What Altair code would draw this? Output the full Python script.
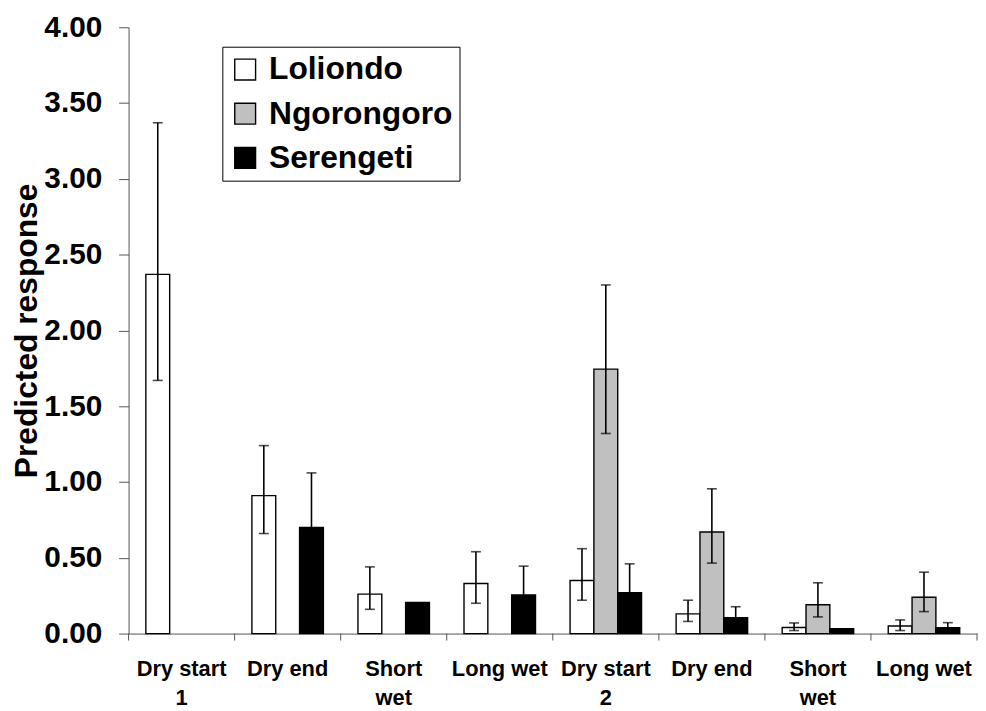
import json
import altair as alt
import pandas as pd

# ---- data ----
categories = ["Dry start\n1", "Dry end", "Short\nwet", "Long wet",
              "Dry start\n2", "Dry end", "Short\nwet", "Long wet"]
sites = ["Loliondo", "Ngorongoro", "Serengeti"]

loliondo = [2.37, 0.91, 0.26, 0.33, 0.35, 0.13, 0.04, 0.05]
loliondo_hi = [3.37, 1.24, 0.44, 0.54, 0.56, 0.22, 0.07, 0.09]
loliondo_lo = [1.67, 0.66, 0.16, 0.20, 0.22, 0.08, 0.02, 0.02]

ngorongoro = [None, None, None, None, 1.745, 0.67, 0.19, 0.24]
ngorongoro_hi = [None, None, None, None, 2.30, 0.955, 0.335, 0.405]
ngorongoro_lo = [None, None, None, None, 1.32, 0.465, 0.11, 0.145]

serengeti = [None, 0.70, 0.205, 0.255, 0.27, 0.105, 0.033, 0.039]
serengeti_hi = [None, 1.06, None, 0.445, 0.46, 0.177, None, 0.072]
serengeti_lo = [None, 0.34, None, 0.07, 0.08, 0.035, None, 0.006]

site_colors = ["#ffffff", "#c0c0c0", "#000000"]
y_ticks = [0, 0.5, 1.0, 1.5, 2.0, 2.5, 3.0, 3.5, 4.0]

# ---- tables ----
series = {
    "Loliondo": (loliondo, loliondo_lo, loliondo_hi),
    "Ngorongoro": (ngorongoro, ngorongoro_lo, ngorongoro_hi),
    "Serengeti": (serengeti, serengeti_lo, serengeti_hi),
}
keys = [str(i) for i in range(len(categories))]
bar_rows, err_rows = [], []
for site, (vals, los, his) in series.items():
    for i, v in enumerate(vals):
        if v is not None:
            bar_rows.append({"key": keys[i], "site": site, "value": v})
        if his[i] is not None:
            err_rows.append({"key": keys[i], "site": site, "lo": los[i], "hi": his[i]})
bars_df = pd.DataFrame(bar_rows)
err_df = pd.DataFrame(err_rows)
keys_df = pd.DataFrame({"key": keys})
last_key_df = pd.DataFrame({"key": keys[-1:]})

label_lines = [c.split("\n") for c in categories]
label_expr = json.dumps(label_lines) + "[toNumber(datum.value)]"

FONT = "Liberation Sans"
AXIS_GRAY = "#555555"

x_enc = alt.X("key:O", sort=keys, title=None,
              scale=alt.Scale(paddingInner=0, paddingOuter=0),
              axis=alt.Axis(labelExpr=label_expr, labelAngle=0, labelFontSize=22,
                            labelFont=FONT, labelFontWeight="bold", labelColor="black",
                            labelLineHeight=29, labelPadding=25,
                            grid=False, ticks=False,
                            domainColor=AXIS_GRAY, labelBaseline="top"))
xo_enc = alt.XOffset("site:N", sort=sites,
                     scale=alt.Scale(domain=sites, paddingInner=0, paddingOuter=0.725))

y_scale = alt.Scale(domain=[0, 4], nice=False)

bars = alt.Chart(bars_df).mark_bar(stroke="black", strokeWidth=1.4).encode(
    x=x_enc,
    xOffset=xo_enc,
    y=alt.Y("value:Q", scale=y_scale, title="Predicted response",
            axis=alt.Axis(values=y_ticks, format=".2f", grid=False, tickSize=10,
                          tickColor=AXIS_GRAY, domainColor=AXIS_GRAY,
                          labelFontSize=30, labelFont=FONT, labelFontWeight="bold",
                          labelColor="black", labelPadding=17,
                          titleFontSize=32, titleFont=FONT, titleFontWeight="bold",
                          titleColor="black", titlePadding=0)),
    fill=alt.Fill("site:N", sort=sites,
                  scale=alt.Scale(domain=sites, range=site_colors),
                  legend=alt.Legend(title=None, orient="none", legendX=94.5, legendY=19.6,
                                    symbolType="square", symbolSize=441,
                                    symbolStrokeColor="black", symbolStrokeWidth=1.4,
                                    labelFontSize=32, labelFont=FONT,
                                    labelFontWeight="bold", labelColor="black",
                                    labelLimit=0, labelOffset=8, rowPadding=12.5,
                                    padding=7, strokeColor="black", fillColor="white")),
)

# small tick marks at the category boundaries, below the x axis
bound_start = alt.Chart(keys_df).mark_rule(color=AXIS_GRAY, strokeWidth=1).encode(
    x=alt.X("key:O", sort=keys, bandPosition=0),
    y=alt.value(611),
    y2=alt.value(618),
)
bound_end = alt.Chart(last_key_df).mark_rule(color=AXIS_GRAY, strokeWidth=1).encode(
    x=alt.X("key:O", sort=keys, bandPosition=1),
    y=alt.value(611),
    y2=alt.value(618),
)

rules = alt.Chart(err_df).mark_rule(color="black", strokeWidth=1.6).encode(
    x=alt.X("key:O", sort=keys),
    xOffset=alt.XOffset("site:N", sort=sites),
    y=alt.Y("lo:Q", scale=y_scale),
    y2="hi:Q",
)
caps_hi = alt.Chart(err_df).mark_tick(color="black", thickness=1.6, size=10).encode(
    x=alt.X("key:O", sort=keys),
    xOffset=alt.XOffset("site:N", sort=sites),
    y=alt.Y("hi:Q", scale=y_scale),
)
caps_lo = alt.Chart(err_df).mark_tick(color="black", thickness=1.6, size=10).encode(
    x=alt.X("key:O", sort=keys),
    xOffset=alt.XOffset("site:N", sort=sites),
    y=alt.Y("lo:Q", scale=y_scale),
)

chart = alt.layer(bars, bound_start, bound_end, rules, caps_hi, caps_lo).properties(
    width=855, height=611,
    background="white",
    autosize=alt.AutoSizeParams(type="none"),
    padding={"left": 121.5, "top": 16.7, "right": 1, "bottom": 75},
).configure_view(stroke="transparent", strokeWidth=0).configure_axis(grid=False)

chart.save("out.html", embed_options={"renderer": "svg", "actions": False})
